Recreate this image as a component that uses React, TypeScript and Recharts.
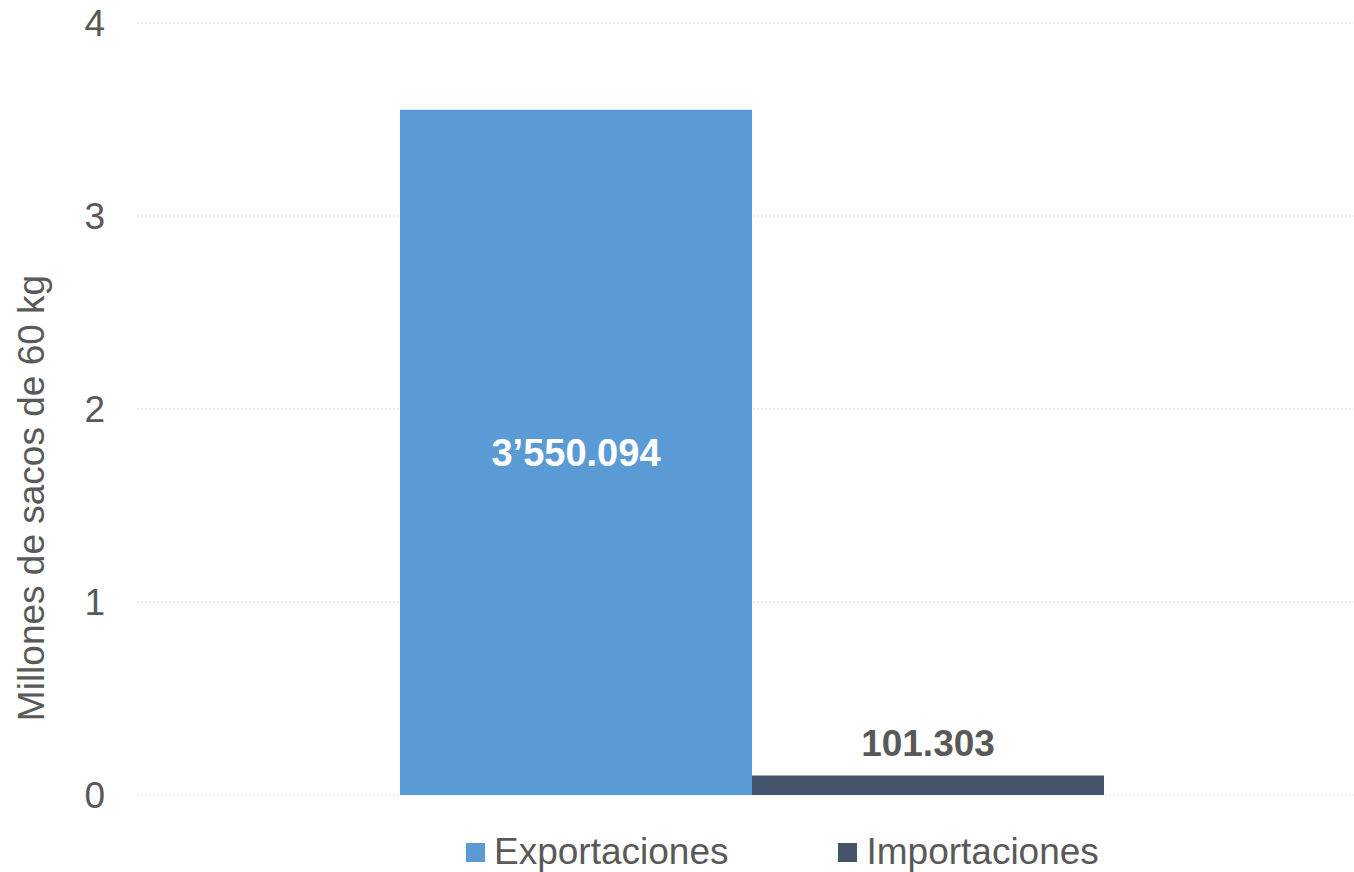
import React from 'react';
import { BarChart, Bar, XAxis, YAxis, CartesianGrid, Legend, LabelList } from 'recharts';

const categories = ['Total'];
const exportaciones = [3.550094];
const importaciones = [0.101303];
const exportLabels = ['3’550.094'];
const importLabels = ['101.303'];
const yTicks = [0, 1, 2, 3, 4];

const FONT = '"Liberation Sans", Arial, sans-serif';
const TEXT = '#595959';
const BLUE = '#5B9BD5';
const DARK = '#44546A';

const data = categories.map((c, i) => ({
    name: c,
    exp: exportaciones[i],
    imp: importaciones[i],
    expLabel: exportLabels[i],
    impLabel: importLabels[i],
}));

const legendItems = [
    { name: 'Exportaciones', color: BLUE },
    { name: 'Importaciones', color: DARK },
];

const renderLegend = () => (
    <div style={{ height: 77, paddingTop: 36, boxSizing: 'border-box', display: 'flex', paddingLeft: 466 }}>
        {legendItems.map((it, i) => (
            <div key={it.name} style={{ display: 'flex', alignItems: 'center', height: 42, marginRight: i === 0 ? 110 : 0 }}>
                <span style={{ width: 19, height: 19, background: it.color, marginRight: 9, display: 'inline-block' }} />
                <span style={{ fontFamily: FONT, fontSize: 37, color: TEXT, lineHeight: '42px' }}>{it.name}</span>
            </div>
        ))}
    </div>
);

// eje Y: titulo rotado, algo desplazado hacia abajo como en el original
const YTitle = () => (
    <text
        x={31}
        y={498}
        transform="rotate(-90 31 498)"
        textAnchor="middle"
        dominantBaseline="central"
        fill={TEXT}
        fontSize={37}
        fontFamily={FONT}
    >
        Millones de sacos de 60 kg
    </text>
);

export default function App() {
    return (
        <div style={{ position: 'absolute', left: 0, top: 0, width: 1354, height: 872, overflow: 'hidden', background: '#fff' }}>
            <BarChart
                width={1366}
                height={872}
                data={data}
                margin={{ top: 23, right: 0, bottom: 0, left: 0 }}
                barCategoryGap={263}
                barGap={0}
            >
                <CartesianGrid vertical={false} stroke="#D9D9D9" strokeDasharray="2 2" />
                <XAxis dataKey="name" hide />
                <YAxis
                    domain={[0, 4]}
                    ticks={yTicks}
                    width={137}
                    axisLine={false}
                    tickLine={false}
                    tickMargin={26}
                    tick={{ fill: TEXT, fontSize: 37, fontFamily: FONT }}
                    label={<YTitle />}
                />
                <Legend verticalAlign="bottom" content={renderLegend} wrapperStyle={{ left: 0, width: 1354 }} />
                <Bar dataKey="exp" name="Exportaciones" fill={BLUE} isAnimationActive={false}>
                    <LabelList dataKey="expLabel" position="center" fill="#FFFFFF" fontSize={38} fontWeight="bold" fontFamily={FONT} />
                </Bar>
                <Bar dataKey="imp" name="Importaciones" fill={DARK} isAnimationActive={false}>
                    <LabelList dataKey="impLabel" position="top" offset={19} fill={TEXT} fontSize={37} fontWeight="bold" fontFamily={FONT} />
                </Bar>
            </BarChart>
        </div>
    );
}
